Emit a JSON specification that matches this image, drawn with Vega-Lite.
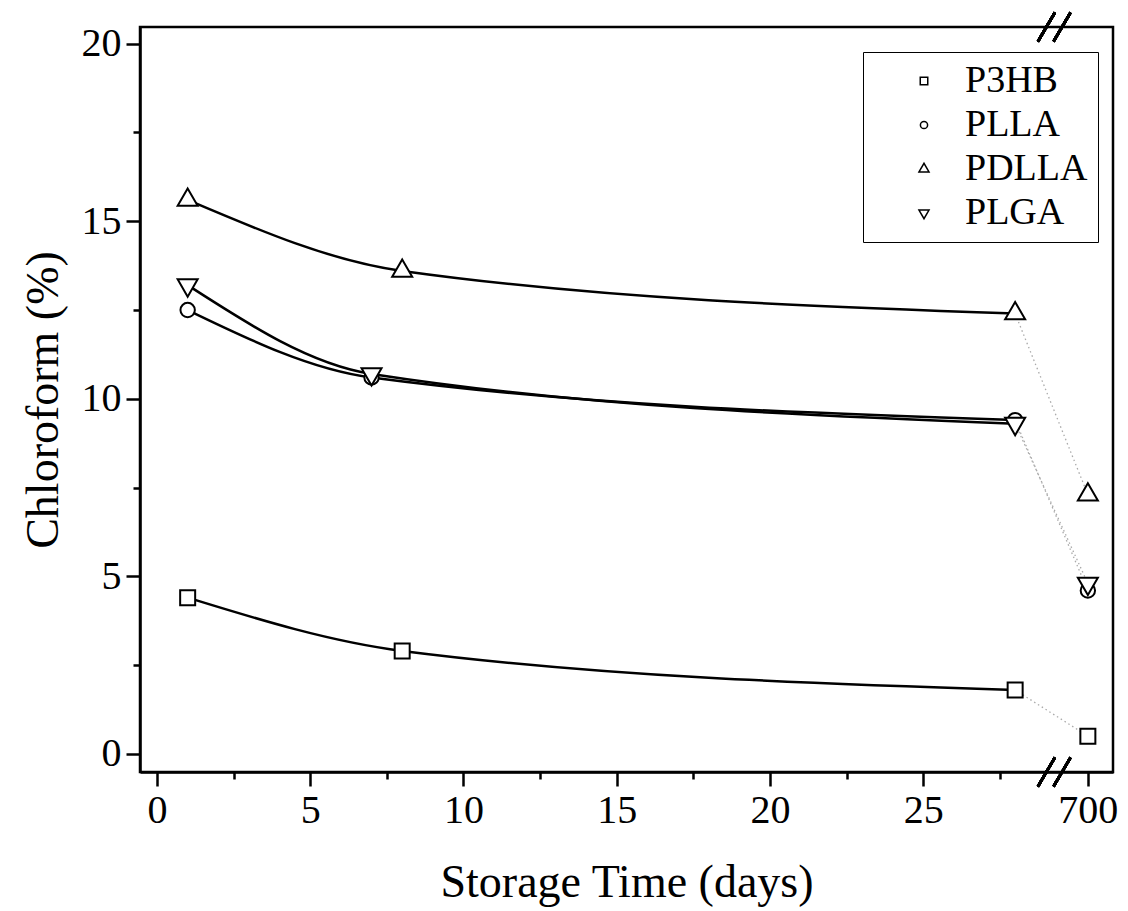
{
  "$schema": "https://vega.github.io/schema/vega-lite/v6.json",
  "width": 973,
  "height": 745,
  "autosize": "none",
  "padding": {"left": 140, "top": 27, "right": 15, "bottom": 139},
  "background": "white",
  "config": {
    "view": {"stroke": "black", "strokeWidth": 2.5},
    "font": "Liberation Serif"
  },
  "data": {
    "values": [
      {"series": "P3HB", "day": 1, "value": 4.4},
      {"series": "P3HB", "day": 8, "value": 2.9},
      {"series": "P3HB", "day": 28, "value": 1.8},
      {"series": "P3HB", "day": 700, "value": 0.5},
      {"series": "PLLA", "day": 1, "value": 12.5},
      {"series": "PLLA", "day": 7, "value": 10.6},
      {"series": "PLLA", "day": 28, "value": 9.4},
      {"series": "PLLA", "day": 700, "value": 4.6},
      {"series": "PDLLA", "day": 1, "value": 15.6},
      {"series": "PDLLA", "day": 8, "value": 13.6},
      {"series": "PDLLA", "day": 28, "value": 12.4},
      {"series": "PDLLA", "day": 700, "value": 7.3},
      {"series": "PLGA", "day": 1, "value": 13.2},
      {"series": "PLGA", "day": 7, "value": 10.7},
      {"series": "PLGA", "day": 28, "value": 9.3},
      {"series": "PLGA", "day": 700, "value": 4.8}
    ]
  },
  "encoding": {
    "x": {
      "field": "day",
      "type": "quantitative",
      "scale": {"domain": [-0.555, 29.79, 699.45, 700.82], "range": [0, 930, 931, 973], "zero": false, "nice": false},
      "axis": {
        "title": "Storage Time (days)",
        "values": [0, 2.5, 5, 7.5, 10, 12.5, 15, 17.5, 20, 22.5, 25, 27.5, 700],
        "labelExpr": "datum.value % 5 === 0 ? format(datum.value, 'd') : ''",
        "grid": false,
        "domainColor": "black", "domainWidth": 2.5,
        "tickColor": "black", "tickWidth": 2.5,
        "tickSize": {"expr": "datum.value % 5 !== 0 ? 7 : 14"},
        "labelFont": "Liberation Serif", "labelFontSize": 40, "labelColor": "black",
        "labelPadding": 4, "labelFlush": false, "labelOverlap": false,
        "titleFont": "Liberation Serif", "titleFontSize": 46, "titleFontWeight": "normal", "titleColor": "black",
        "titlePadding": 30
      }
    },
    "y": {
      "field": "value",
      "type": "quantitative",
      "scale": {"domain": [-0.51, 20.47], "zero": false, "nice": false},
      "axis": {
        "title": "Chloroform (%)",
        "values": [0, 2.5, 5, 7.5, 10, 12.5, 15, 17.5, 20],
        "labelExpr": "datum.value % 5 === 0 ? format(datum.value, 'd') : ''",
        "grid": false,
        "domainColor": "black", "domainWidth": 2.5,
        "tickColor": "black", "tickWidth": 2.5,
        "tickSize": {"expr": "datum.value % 5 !== 0 ? 7 : 14"},
        "labelFont": "Liberation Serif", "labelFontSize": 40, "labelColor": "black",
        "labelPadding": 5, "labelFlush": false, "labelOverlap": false,
        "titleFont": "Liberation Serif", "titleFontSize": 46, "titleFontWeight": "normal", "titleColor": "black",
        "titlePadding": 14
      }
    }
  },
  "layer": [
    {
      "transform": [{"filter": "datum.day <= 28"}],
      "mark": {"type": "line", "interpolate": "monotone", "color": "black", "strokeWidth": 2.5},
      "encoding": {"detail": {"field": "series"}}
    },
    {
      "transform": [{"filter": "datum.day >= 28"}],
      "mark": {"type": "line", "color": "#aaaaaa", "strokeWidth": 1.3, "strokeDash": [1.5, 3]},
      "encoding": {"detail": {"field": "series"}}
    },
    {
      "mark": {"type": "point", "filled": true, "fill": "white", "stroke": "black", "strokeWidth": 2, "size": 400, "opacity": 1},
      "encoding": {
        "shape": {
          "field": "series",
          "type": "nominal",
          "sort": ["P3HB", "PLLA", "PDLLA", "PLGA"],
          "scale": {
            "domain": ["P3HB", "PLLA", "PDLLA", "PLGA"],
            "range": [
              "M-0.75,-0.75H0.75V0.75H-0.75Z",
              "M-0.72,0A0.72,0.72 0 1,1 0.72,0A0.72,0.72 0 1,1 -0.72,0Z",
              "M-1,0.58L0,-1.15L1,0.58Z",
              "M-1,-0.58L0,1.15L1,-0.58Z"
            ]
          },
          "legend": {
            "title": null,
            "orient": "none",
            "legendX": 723,
            "legendY": 25,
            "direction": "vertical",
            "padding": 10,
            "strokeColor": "black",
            "symbolOffset": 32,
            "labelOffset": 22,
            "labelFont": "Liberation Serif",
            "labelFontSize": 38,
            "labelColor": "black",
            "rowPadding": 6,
            "encode": {
              "legend": {"update": {"strokeWidth": {"value": 2}, "fill": {"value": "white"}}},
              "symbols": {
                "update": {
                  "opacity": {"value": 1},
                  "fill": {"value": "white"},
                  "fillOpacity": {"value": 1},
                  "stroke": {"value": "black"},
                  "strokeOpacity": {"value": 1},
                  "strokeWidth": {"value": 2},
                  "size": {"value": 400},
                  "shape": [
                    {"test": "datum.value === 'P3HB'", "value": "M-4.2,0H-0.75M0.75,0H4.2M-0.75,-0.75H0.75V0.75H-0.75Z"},
                    {"test": "datum.value === 'PLLA'", "value": "M-4.2,0H-0.72M0.72,0H4.2M-0.72,0A0.72,0.72 0 1,1 0.72,0A0.72,0.72 0 1,1 -0.72,0Z"},
                    {"test": "datum.value === 'PDLLA'", "value": "M-4.2,0H-0.8M0.8,0H4.2M-1,0.58L0,-1.15L1,0.58Z"},
                    {"value": "M-4.2,0H-0.8M0.8,0H4.2M-1,-0.58L0,1.15L1,-0.58Z"}
                  ]
                }
              }
            }
          }
        }
      }
    },
    {
      "mark": {"type": "rule", "color": "black", "strokeWidth": 2.5, "xOffset": -8.5, "x2Offset": 8.5, "yOffset": 14.5, "y2Offset": -14.5},
      "encoding": {"x": {"datum": 29.02}, "x2": {"datum": 29.02}, "y": {"datum": -0.51}, "y2": {"datum": -0.51}}
    },
    {
      "mark": {"type": "rule", "color": "black", "strokeWidth": 2.5, "xOffset": -8.5, "x2Offset": 8.5, "yOffset": 14.5, "y2Offset": -14.5},
      "encoding": {"x": {"datum": 29.53}, "x2": {"datum": 29.53}, "y": {"datum": -0.51}, "y2": {"datum": -0.51}}
    },
    {
      "mark": {"type": "rule", "color": "black", "strokeWidth": 2.5, "xOffset": -8.5, "x2Offset": 8.5, "yOffset": 14.5, "y2Offset": -14.5},
      "encoding": {"x": {"datum": 29.02}, "x2": {"datum": 29.02}, "y": {"datum": 20.47}, "y2": {"datum": 20.47}}
    },
    {
      "mark": {"type": "rule", "color": "black", "strokeWidth": 2.5, "xOffset": -8.5, "x2Offset": 8.5, "yOffset": 14.5, "y2Offset": -14.5},
      "encoding": {"x": {"datum": 29.53}, "x2": {"datum": 29.53}, "y": {"datum": 20.47}, "y2": {"datum": 20.47}}
    }
  ]
}
